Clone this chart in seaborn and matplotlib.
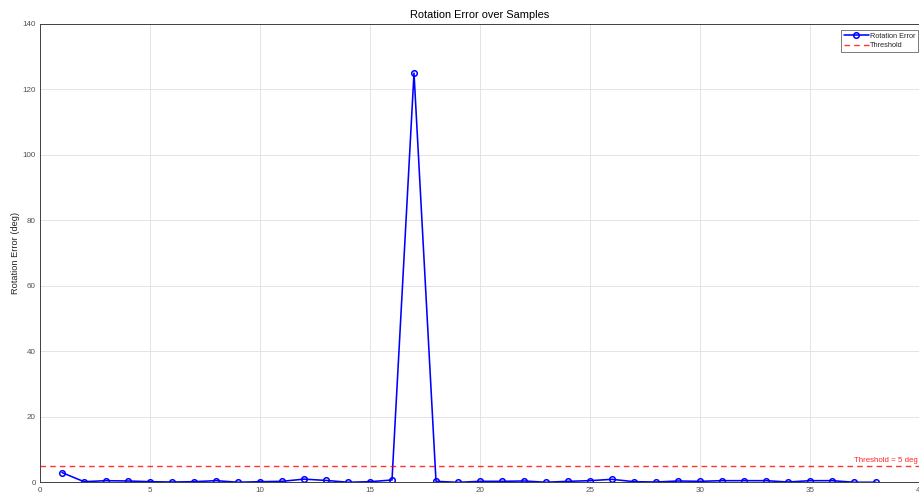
import matplotlib
matplotlib.use("Agg")
import matplotlib.pyplot as plt
import seaborn as sns
import pandas as pd

samples = list(range(1, 39))
rotation_error = [3.0, 0.22, 0.53, 0.43, 0.22, 0.12, 0.22, 0.53, 0.05, 0.22,
                  0.33, 1.0, 0.6, 0.05, 0.22, 0.73, 125.0, 0.33, 0.02, 0.33,
                  0.33, 0.43, 0.05, 0.33, 0.53, 0.94, 0.22, 0.12, 0.43, 0.33,
                  0.53, 0.53, 0.53, 0.12, 0.53, 0.53, 0.05, 0.05]
threshold = 5
x_ticks = [0, 5, 10, 15, 20, 25, 30, 35, 40]
y_ticks = [0, 20, 40, 60, 80, 100, 120, 140]

df = pd.DataFrame({"Sample": samples, "Error": rotation_error})

sns.set_theme(style="white")
plt.rcParams['font.family'] = ['Liberation Sans', 'DejaVu Sans']

W, H = 919, 496
fig = plt.figure(figsize=(W / 100, H / 100), dpi=100)
left, right, top, bottom = 40, 920, 24, 482.4
ax = fig.add_axes([left / W, (H - bottom) / H, (right - left) / W, (bottom - top) / H])

sns.lineplot(data=df, x="Sample", y="Error", ax=ax, color="blue", linewidth=1.15,
             marker="o", markersize=4.0, markerfacecolor="none",
             markeredgecolor="blue", markeredgewidth=1.1, label="Rotation Error")
ax.axhline(threshold, color="red", linestyle=(0, (4, 3)), linewidth=1.0, alpha=0.8,
           label="Threshold")
ax.text(40 - 0.1, threshold + 0.6, f"Threshold = {threshold} deg", color="red",
        fontsize=5.7, ha="right", va="bottom", alpha=0.85)

ax.set_xlim(0, 40)
ax.set_ylim(0, 140)
ax.set_xticks(x_ticks)
ax.set_yticks(y_ticks)
ax.tick_params(axis="both", direction="in", length=6, width=0.7, colors="#333333",
               labelsize=5.8, labelcolor="#505050", pad=3)
ax.grid(True, color="#e4e4e4", linewidth=0.7)
for s in ax.spines.values():
    s.set_color("#404040")
    s.set_linewidth(0.7)
ax.set_xlabel("")
ax.set_ylabel("Rotation Error (deg)", fontsize=6.7, color="#262626", labelpad=1.5)
ax.set_title("Rotation Error over Samples", fontsize=7.9, color="black", pad=4)

leg = ax.legend(loc="upper right",
                bbox_to_anchor=((918 - left) / (right - left), (bottom - 30) / (bottom - top)),
                borderaxespad=0, fontsize=5.3, frameon=True, fancybox=False,
                edgecolor="#404040", borderpad=0.35, labelspacing=0.3,
                handlelength=3.4, handletextpad=0.15)
leg.get_frame().set_linewidth(0.6)

fig.savefig("out.png", dpi=100)
